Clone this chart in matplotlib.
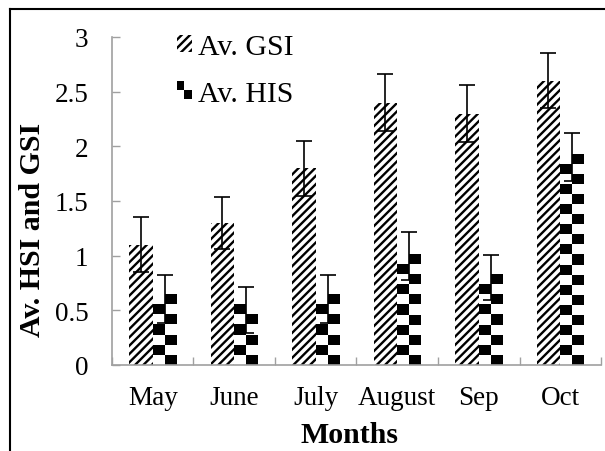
import numpy as np
import matplotlib
matplotlib.use('Agg')
import matplotlib.pyplot as plt
from matplotlib.lines import Line2D
from matplotlib.patches import Rectangle
from matplotlib.legend_handler import HandlerBase

months = ['May', 'June', 'July', 'August', 'Sep', 'Oct']
gsi = [1.1, 1.3, 1.8, 2.4, 2.3, 2.6]
gsi_err = [0.25, 0.24, 0.25, 0.26, 0.26, 0.25]
his = [0.6, 0.5, 0.6, 1.0, 0.8, 1.9]
his_err = [0.22, 0.21, 0.22, 0.22, 0.21, 0.22]
yticks = [0, 0.5, 1, 1.5, 2, 2.5, 3]
ytick_labels = ['0', '0.5', '1', '1.5', '2', '2.5', '3']

plt.rcParams['font.family'] = ['Liberation Serif', 'DejaVu Serif']
plt.rcParams['hatch.linewidth'] = 1.7

TICK_FS = 19.5
LABEL_FS = 21.5
AXIS_GREY = '#a0a0a0'


class CheckerHandler(HandlerBase):
    # two black squares on the diagonal, like the bar fill
    def create_artists(self, legend, orig_handle, xdescent, ydescent,
                       width, height, fontsize, trans):
        hw, hh = width / 2, height / 2
        return [
            Rectangle((-xdescent, -ydescent + hh), hw, hh,
                      facecolor='black', edgecolor='none', transform=trans),
            Rectangle((-xdescent + hw, -ydescent), hw, hh,
                      facecolor='black', edgecolor='none', transform=trans),
        ]


fig = plt.figure(figsize=(6.05, 4.52), dpi=100)
ax = fig.add_axes([0.1851, 0.1903, 0.8083, 0.7257])

x = np.arange(len(months))
w = 0.29

gsi_bars = ax.bar(x - w / 2, gsi, w, color='white', edgecolor='black',
                  linewidth=0, hatch='////', label='Av. GSI', zorder=1)
his_bars = ax.bar(x + w / 2, his, w, color='white', edgecolor='none',
                  linewidth=0, label='Av. HIS', zorder=1)

# checkerboard fill: two columns per bar, clipped to the bar outline
row_h = 0.0915
for bar in his_bars:
    x0 = bar.get_x()
    x1 = x0 + bar.get_width()
    nrows = int(np.ceil(bar.get_height() / row_h))
    cells = np.add.outer(np.arange(nrows), np.arange(2)) % 2
    ax.imshow(cells, cmap='gray_r', vmin=0, vmax=1, origin='lower',
              extent=(x0, x1, 0, nrows * row_h), aspect='auto',
              interpolation='nearest', clip_path=bar, zorder=1.5)

ax.errorbar(x - w / 2, gsi, yerr=gsi_err, fmt='none', ecolor='black',
            elinewidth=1.2, capsize=6, capthick=1.2, zorder=3)
ax.errorbar(x + w / 2, his, yerr=his_err, fmt='none', ecolor='black',
            elinewidth=1.2, capsize=6, capthick=1.2, zorder=3)

ax.set_xlim(-0.5, len(months) - 0.5)
ax.set_ylim(0, 3)

# category boundaries get the tick marks, centres get the names
ax.set_xticks(np.arange(len(months) + 1) - 0.5)
ax.set_xticklabels([])
ax.set_xticks(x, minor=True)
ax.set_xticklabels(months, minor=True)
ax.set_yticks(yticks)
ax.set_yticklabels(ytick_labels)

ax.tick_params(axis='x', which='major', direction='in', length=6,
               width=1, color=AXIS_GREY)
ax.tick_params(axis='x', which='minor', length=0, pad=14.5,
               labelsize=TICK_FS)
ax.tick_params(axis='y', direction='in', length=6, width=1,
               color=AXIS_GREY, pad=17, labelsize=TICK_FS)

for side in ['top', 'right']:
    ax.spines[side].set_visible(False)
for side in ['left', 'bottom']:
    ax.spines[side].set_color(AXIS_GREY)
    ax.spines[side].set_linewidth(1.2)

ax.set_ylabel('Av. HSI and GSI', fontsize=LABEL_FS, fontweight='bold')
ax.yaxis.set_label_coords(-0.135, 0.415)
ax.set_xlabel('Months', fontsize=LABEL_FS, fontweight='bold')
ax.xaxis.set_label_coords(0.485, -0.172)

ax.legend(handles=[gsi_bars, his_bars], labels=['Av. GSI', 'Av. HIS'],
          handler_map={his_bars: CheckerHandler()},
          loc='upper left', bbox_to_anchor=(0.133, 1.01), frameon=False,
          fontsize=LABEL_FS, handlelength=0.5, handleheight=0.5,
          handletextpad=0.2, labelspacing=0.7, borderpad=0,
          borderaxespad=0)

# outer frame along the top and left edges
fy = 1 - 10 / 452
fx = 10 / 605
fig.add_artist(Line2D([fx, 1], [fy, fy], transform=fig.transFigure,
                      color='black', linewidth=1.5))
fig.add_artist(Line2D([fx, fx], [0, fy], transform=fig.transFigure,
                      color='black', linewidth=1.5))

fig.savefig('out.png', dpi=100)
